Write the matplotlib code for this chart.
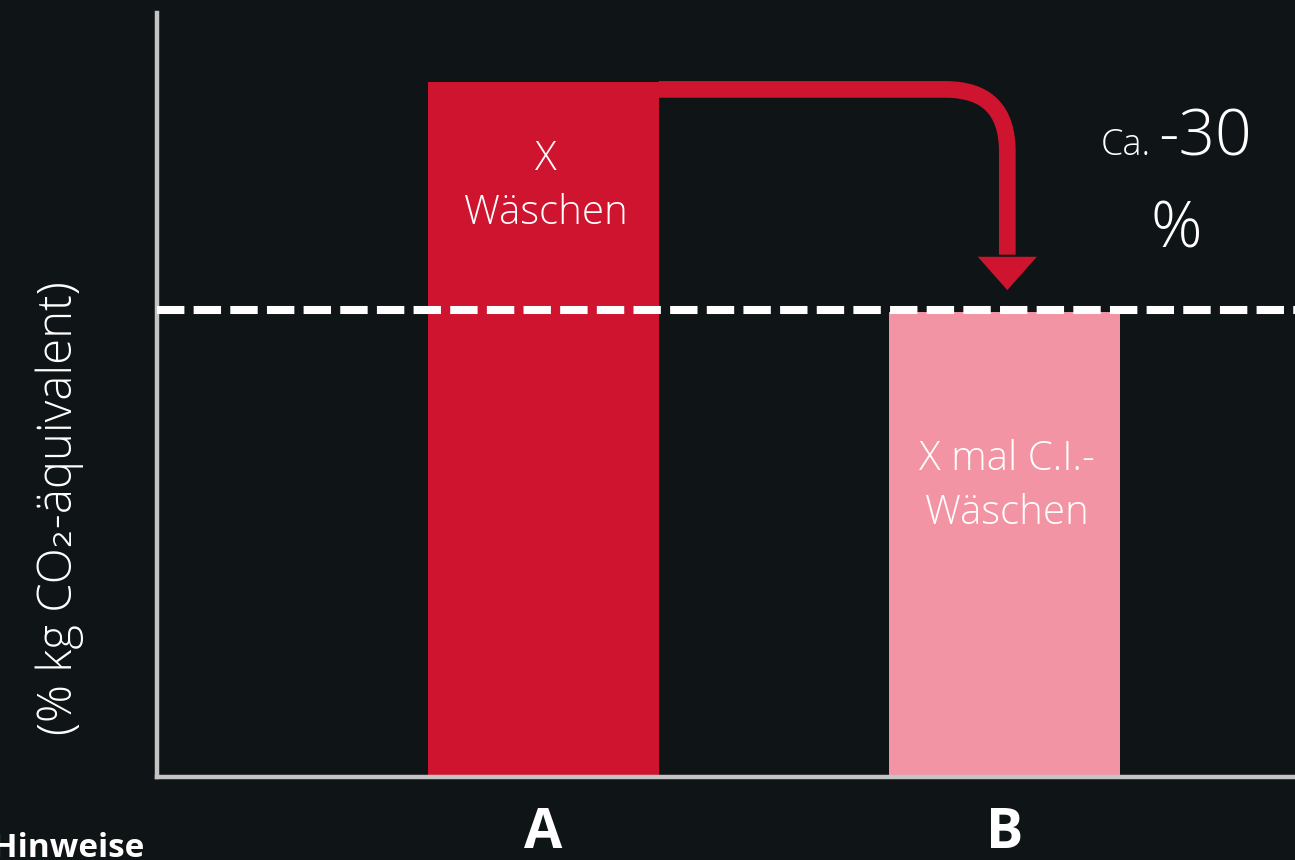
import matplotlib
matplotlib.use("Agg")
import matplotlib.pyplot as plt
from matplotlib.patches import FancyArrowPatch, Polygon

# fonts: light sans for the texts, DejaVu as fallback for the subscript
plt.rcParams['font.family'] = ['Open Sans', 'DejaVu Sans']

# data
categories = ["A", "B"]
values = [100, 67]
bar_texts = ["X\nWäschen", "X mal C.I.-\nWäschen"]
bar_text_y = [85.0, 41.8]
reference_level = 67.3
reduction_label = "-30"
ylabel = "(% kg CO\u2082-äquivalent)"

bg = "#0f1416"
red = "#cf1430"
pink = "#f394a4"
grey = "#c4c4c4"

fig = plt.figure(figsize=(12.95, 8.6), dpi=100, facecolor=bg)
ax = fig.add_axes([156.5 / 1295, 83 / 860, (1295 - 156.5) / 1295, 764 / 860])
ax.set_facecolor(bg)

x = list(range(len(categories)))
ax.bar(x, values, width=0.5, color=[red, pink], zorder=1)
ax.set_xlim(-0.8395, 1.63)
ax.set_ylim(0, 110)

# dashed reference line at the level of B
ax.axhline(reference_level, color="white", lw=5.8, linestyle=(0, (3.4, 1.15)), zorder=3)

# texts in bars
for xi, t, ty in zip(x, bar_texts, bar_text_y):
    ax.text(xi + 0.005, ty, t, ha="center", va="center", color="white",
            fontsize=29, fontweight="light", linespacing=1.4, zorder=4)

# arrow from top of A down to B
shaft_y = values[0] - 1
x_arrow = x[1] + 0.006
head_base = values[1] + 7.9
head_tip = values[1] + 3.1
shaft = FancyArrowPatch((x[0] + 0.25, shaft_y), (x_arrow, head_base + 0.3),
                        arrowstyle="-", connectionstyle="angle,angleA=0,angleB=90,rad=62",
                        lw=12, color=red, shrinkA=0, shrinkB=0, capstyle="butt", zorder=2)
ax.add_patch(shaft)
ax.add_patch(Polygon([[x_arrow - 0.064, head_base], [x_arrow + 0.064, head_base],
                      [x_arrow, head_tip]], closed=True, color=red, lw=0, zorder=2))

# reduction label
ax.text(1.318, 89.5, "Ca.", ha="right", va="baseline", color="white",
        fontsize=26, fontweight="light")
ax.text(1.334, 89.5, reduction_label, ha="left", va="baseline", color="white",
        fontsize=46, fontweight="light")
ax.text(1.372, 76.3, "%", ha="center", va="baseline", color="white",
        fontsize=46, fontweight="light")

# axes styling
for s in ["top", "right"]:
    ax.spines[s].set_visible(False)
for s in ["left", "bottom"]:
    ax.spines[s].set_color(grey)
    ax.spines[s].set_linewidth(3.2)
ax.set_yticks([])
ax.set_xticks(x)
ax.set_xticklabels(categories, color="white", fontsize=40, fontweight="bold")
ax.tick_params(axis="x", length=0, pad=21)
ax.set_ylabel(ylabel, color="white", fontsize=34, fontweight="light",
              ha="center", va="center")
ax.yaxis.set_label_coords(-0.085, 0.352)

fig.text(-0.006, 0.004, "Hinweise", color="white", fontsize=24, fontweight="bold",
         ha="left", va="baseline")

fig.savefig("out.png", dpi=100, facecolor=bg)
